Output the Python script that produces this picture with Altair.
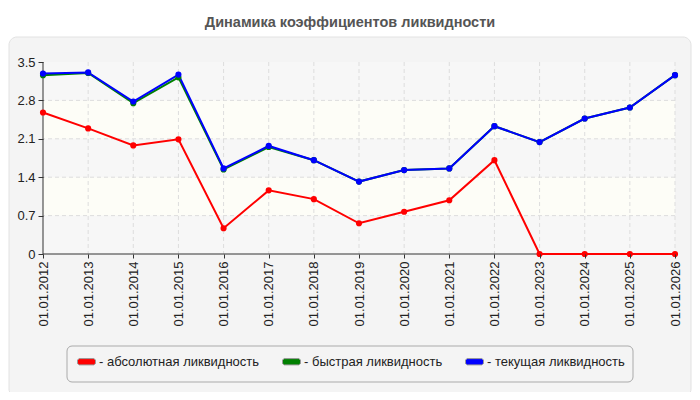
import altair as alt
import pandas as pd

dates = [
    "01.01.2012", "01.01.2013", "01.01.2014", "01.01.2015", "01.01.2016",
    "01.01.2017", "01.01.2018", "01.01.2019", "01.01.2020", "01.01.2021",
    "01.01.2022", "01.01.2023", "01.01.2024", "01.01.2025", "01.01.2026",
]
absolute_ratio = [2.58, 2.29, 1.98, 2.09, 0.47, 1.16, 1.00, 0.56, 0.77, 0.98, 1.71, 0, 0, 0, 0]
quick_ratio = [3.26, 3.30, 2.75, 3.22, 1.54, 1.95, 1.71, 1.32, 1.53, 1.56, 2.33, 2.04, 2.47, 2.67, 3.26]
current_ratio = [3.29, 3.31, 2.78, 3.27, 1.56, 1.97, 1.71, 1.32, 1.53, 1.56, 2.33, 2.04, 2.47, 2.67, 3.26]

series_names = ["абсолютная ликвидность", "быстрая ликвидность", "текущая ликвидность"]
series_colors = ["#ff0000", "#008000", "#0000ff"]

y_ticks = [0, 0.7, 1.4, 2.1, 2.8, 3.5]
hatched_lo = [0, 1.4, 2.8]
hatched_hi = [0.7, 2.1, 3.5]
plain_lo = [0.7, 2.1]
plain_hi = [1.4, 2.8]

title_text = "Динамика коэффициентов ликвидности"

FONT = "Liberation Sans"

rows = []
for name, values in zip(series_names, [absolute_ratio, quick_ratio, current_ratio]):
    for d, v in zip(dates, values):
        rows.append({"series": name, "date": d, "value": v})
df = pd.DataFrame(rows)

one = pd.DataFrame({"a": [0]})

# zindex=1 so ticks/labels sit above the panel and band rects;
# the axis lines themselves are drawn as rules below the data lines
x_axis = alt.Axis(
    title=None, labelAngle=270, labelFont=FONT, labelFontSize=13,
    labelColor="#222", domain=False, tickColor="#333",
    tickSize=4, grid=False, labelPadding=3, zindex=1,
)
y_axis = alt.Axis(
    title=None, values=y_ticks, format=".1~f", labelFont=FONT,
    labelFontSize=13, labelColor="#222", domain=False,
    tickColor="#333", tickSize=5, grid=False, labelPadding=3, zindex=1,
)
x_scale = alt.Scale(type="point", padding=0)
y_scale = alt.Scale(domain=[0, 3.5], nice=False)


def xq(field):
    return alt.X(field, sort=dates, scale=x_scale, axis=x_axis)


def yq(field):
    return alt.Y(field, scale=y_scale, axis=y_axis)


# panel behind everything
panel = alt.Chart(one).mark_rect(
    fill="#f4f4f4", stroke="#e2e2e2", cornerRadius=8
).encode(x=alt.value(-34), x2=alt.value(648), y=alt.value(-25), y2=alt.value(335))

title = alt.Chart(pd.DataFrame({"t": [title_text]})).mark_text(
    font=FONT, fontSize=14.5, fontWeight="bold", color="#555", align="center",
    baseline="alphabetic",
).encode(text="t:N", x=alt.value(307), y=alt.value(-35))

legend_box = alt.Chart(one).mark_rect(
    fill="#f4f4f4", stroke="#aaaaaa", cornerRadius=5
).encode(x=alt.value(24), x2=alt.value(590), y=alt.value(284), y2=alt.value(320))

bands_hatched = alt.Chart(pd.DataFrame({"lo": hatched_lo, "hi": hatched_hi})).mark_rect(
    fill="#f7f7f7"
).encode(y=yq("lo:Q"), y2="hi:Q", x=alt.value(0), x2=alt.value("width"))
bands_plain = alt.Chart(pd.DataFrame({"lo": plain_lo, "hi": plain_hi})).mark_rect(
    fill="#fdfdf7"
).encode(y=yq("lo:Q"), y2="hi:Q", x=alt.value(0), x2=alt.value("width"))

grid_x = alt.Chart(pd.DataFrame({"date": dates[1:]})).mark_rule(
    color="#dddddd", strokeDash=[4, 3], strokeWidth=1
).encode(x=xq("date:N"))
grid_y = alt.Chart(pd.DataFrame({"v": y_ticks[1:-1]})).mark_rule(
    color="#dddddd", strokeDash=[4, 3], strokeWidth=1
).encode(y=yq("v:Q"))

axis_x_line = alt.Chart(pd.DataFrame({"v": y_ticks[:1]})).mark_rule(
    color="#333", strokeWidth=1
).encode(y=yq("v:Q"))
axis_y_line = alt.Chart(pd.DataFrame({"date": dates[:1]})).mark_rule(
    color="#333", strokeWidth=1
).encode(x=xq("date:N"))

lines = [
    alt.Chart(df)
    .transform_filter(alt.datum.series == name)
    .mark_line(color=color, strokeWidth=2)
    .encode(x=xq("date:N"), y=yq("value:Q"))
    for name, color in zip(series_names, series_colors)
]

# rounded swatch shape for the legend
swatch = "M-0.8,-0.35H0.8L1,-0.2V0.2L0.8,0.35H-0.8L-1,0.2V-0.2Z"

points = alt.Chart(df).mark_point(filled=True, size=38, opacity=1).encode(
    x=xq("date:N"), y=yq("value:Q"),
    fill=alt.Fill(
        "series:N",
        scale=alt.Scale(domain=series_names, range=series_colors),
        legend=alt.Legend(
            orient="none", legendX=34, legendY=290, direction="horizontal",
            title=None, symbolType=swatch, symbolSize=324,
            symbolStrokeColor="#999", symbolStrokeWidth=1, symbolOpacity=1,
            labelExpr="'- ' + datum.label", labelFont=FONT, labelFontSize=13,
            labelColor="#222", columnPadding=20, labelOffset=3, labelLimit=0,
            zindex=1,
        ),
    ),
)

chart = (
    alt.layer(
        panel, title, legend_box, bands_hatched, bands_plain, grid_x, grid_y,
        axis_x_line, axis_y_line, *lines, points,
    )
    .properties(
        width=632,
        height=192,
        padding={"left": 35, "top": 54, "right": 17, "bottom": 138},
        autosize=alt.AutoSizeParams(type="none"),
        background="white",
    )
    .configure_view(stroke="#dddddd", strokeWidth=1)
)

chart.save("out.html", embed_options={"renderer": "svg", "actions": False})
